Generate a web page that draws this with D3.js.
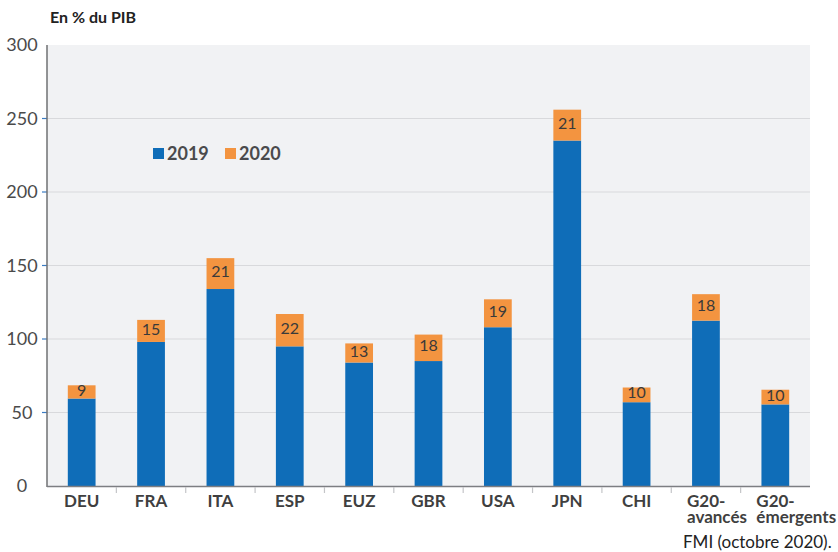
<!DOCTYPE html>
<meta charset="utf-8">
<style>
body { margin: 0; background: #fff; }
text { font-family: Lato, "Open Sans", sans-serif; }
.ytick text { font-size: 18px; fill: #4a4a4a; }
.xlab { font-size: 17px; font-weight: bold; fill: #3f3f3f; }
.val { font-size: 16px; fill: #3a3a3a; text-anchor: middle; }
</style>
<svg width="838" height="552"></svg>
<script src="https://d3js.org/d3.v7.min.js"></script>
<script>

// donnees
var pays = ["DEU", "FRA", "ITA", "ESP", "EUZ", "GBR", "USA", "JPN", "CHI", "G20-\navancés", "G20-\némergents"];
var dette2019 = [59.5, 98, 134, 95, 84, 85, 108, 235, 57, 112.5, 55.5];
var hausse2020 = [9, 15, 21, 22, 13, 18, 19, 21, 10, 18, 10];
var yTicks = [0, 50, 100, 150, 200, 250, 300];

var svg = d3.select("svg"),
    mLeft = 47, mRight = 810, mTop = 45, mBottom = 486;

var x = d3.scaleBand()
    .domain(pays)
    .range([mLeft, mRight])
    .paddingInner(0.6)
    .paddingOuter(0.3);

var y = d3.scaleLinear()
    .domain([0, 300])
    .range([mBottom, mTop]);

var blue = "#0f6db8", orange = "#f39440";

svg.append("rect")
    .attr("x", mLeft).attr("y", mTop)
    .attr("width", mRight - mLeft).attr("height", mBottom - mTop)
    .attr("fill", "#f1f2f4");

// grille
svg.append("g").selectAll("line")
    .data(yTicks.filter(function(d) { return d > 0 && d < 300; }))
    .enter().append("line")
      .attr("x1", mLeft).attr("x2", mRight)
      .attr("y1", function(d) { return y(d); })
      .attr("y2", function(d) { return y(d); })
      .attr("stroke", "#d8d9dc")
      .attr("stroke-width", 1);

// petits traits bleus de l'axe y
svg.append("g").selectAll("line")
    .data(yTicks.filter(function(d) { return d > 0 && d < 300; }))
    .enter().append("line")
      .attr("x1", mLeft - 5).attr("x2", mLeft)
      .attr("y1", function(d) { return y(d); })
      .attr("y2", function(d) { return y(d); })
      .attr("stroke", "#3b7cc4")
      .attr("stroke-width", 1.2);

var yt = svg.append("g").attr("class", "ytick");
yt.selectAll("text")
    .data(yTicks)
    .enter().append("text")
      .attr("x", 22)
      .attr("y", function(d) { return y(d); })
      .attr("dy", "0.35em")
      .attr("text-anchor", "middle")
      .text(function(d) { return d; });

// barres
var bars = svg.append("g").selectAll("g")
    .data(pays)
    .enter().append("g");

bars.append("rect")
    .attr("x", function(d) { return x(d); })
    .attr("width", x.bandwidth())
    .attr("y", function(d, i) { return y(dette2019[i]); })
    .attr("height", function(d, i) { return y(0) - y(dette2019[i]); })
    .attr("fill", blue);

bars.append("rect")
    .attr("x", function(d) { return x(d); })
    .attr("width", x.bandwidth())
    .attr("y", function(d, i) { return y(dette2019[i] + hausse2020[i]); })
    .attr("height", function(d, i) { return y(dette2019[i]) - y(dette2019[i] + hausse2020[i]); })
    .attr("fill", orange);

bars.append("text")
    .attr("class", "val")
    .attr("x", function(d) { return x(d) + x.bandwidth() / 2; })
    .attr("y", function(d, i) { return (y(dette2019[i]) + y(dette2019[i] + hausse2020[i])) / 2 - 2; })
    .attr("dy", "0.35em")
    .text(function(d, i) { return hausse2020[i]; });

// axes
svg.append("line")
    .attr("x1", mLeft).attr("x2", mLeft)
    .attr("y1", mTop).attr("y2", mBottom + 1)
    .attr("stroke", "#6f7073").attr("stroke-width", 1.5);

svg.append("line")
    .attr("x1", mLeft).attr("x2", mRight)
    .attr("y1", mBottom + 0.5).attr("y2", mBottom + 0.5)
    .attr("stroke", "#7d7e82").attr("stroke-width", 1.5);

var step = x.step();
svg.append("g").selectAll("line")
    .data(pays.slice(1))
    .enter().append("line")
      .attr("x1", function(d) { return x(d) - step * x.paddingInner() / 2; })
      .attr("x2", function(d) { return x(d) - step * x.paddingInner() / 2; })
      .attr("y1", mBottom + 1).attr("y2", mBottom + 7)
      .attr("stroke", "#c4c5c8").attr("stroke-width", 1.2);

// libelles : centres sur une ligne, alignes a gauche sur deux lignes
var lignes = [];
pays.forEach(function(d) {
  var parts = d.split("\n"),
      c = x(d) + x.bandwidth() / 2;
  parts.forEach(function(t, i) {
    lignes.push({
      t: t,
      x: parts.length > 1 ? c - 19 : c,
      y: 507 + i * 16,
      anchor: parts.length > 1 ? "start" : "middle"
    });
  });
});

svg.append("g").selectAll("text")
    .data(lignes)
    .enter().append("text")
      .attr("class", "xlab")
      .attr("text-anchor", function(d) { return d.anchor; })
      .attr("x", function(d) { return d.x; })
      .attr("y", function(d) { return d.y; })
      .text(function(d) { return d.t; });

// legende
var legende = [["2019", blue, 153], ["2020", orange, 225]];
var lg = svg.append("g").selectAll("g")
    .data(legende)
    .enter().append("g");
lg.append("rect")
    .attr("x", function(d) { return d[2]; })
    .attr("y", 148).attr("width", 11).attr("height", 11)
    .attr("fill", function(d) { return d[1]; });
lg.append("text")
    .attr("x", function(d) { return d[2] + 14; })
    .attr("y", 160)
    .attr("font-size", "18px").attr("font-weight", "bold")
    .attr("fill", "#4a4a4c")
    .text(function(d) { return d[0]; });

svg.append("text")
    .attr("x", 50).attr("y", 23)
    .attr("font-size", "16px").attr("font-weight", "bold")
    .attr("fill", "#222")
    .text("En % du PIB");

svg.append("text")
    .attr("x", 683).attr("y", 548)
    .attr("font-size", "17px")
    .attr("fill", "#222")
    .text("FMI (octobre 2020).");

</script>
